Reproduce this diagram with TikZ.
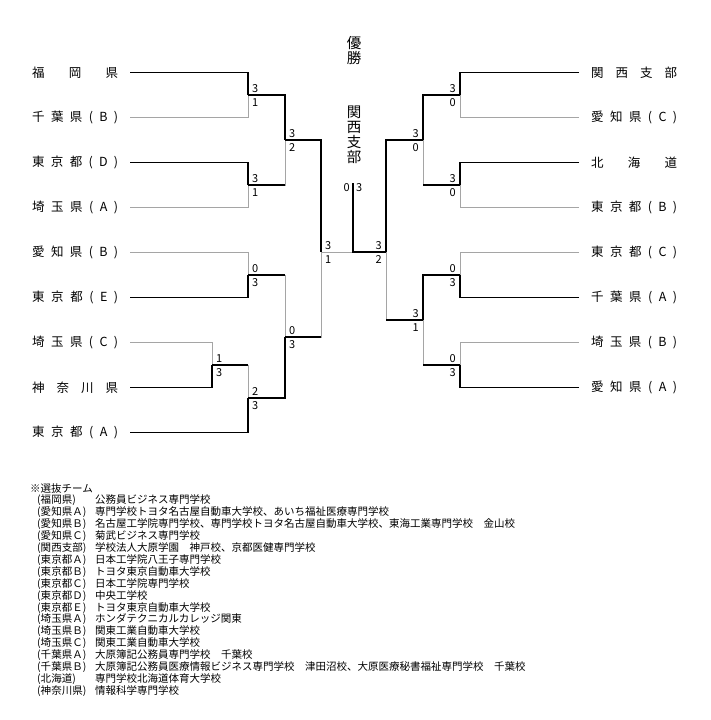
\documentclass[tikz,border=0pt]{standalone}
\usepackage{fontspec}
\setmainfont{Noto Sans CJK JP}
\usetikzlibrary{positioning}

% spread the characters of a team name over a fixed width
\makeatletter
\newcommand\spreadtext[1]{\makebox[86pt][s]{\spr@first#1\@nil}}
\def\spr@first#1{#1\spr@rest}
\def\spr@rest#1{\ifx\@nil#1\else\hfill#1\expandafter\spr@rest\fi}
\makeatother

\definecolor{losegray}{RGB}{165,165,165}

\begin{document}
\begin{tikzpicture}[
      x=1pt, y=-1pt,
      team/.style={inner sep=0pt, anchor=west, font=\fontsize{12.5}{14}\selectfont},
      score/.style={inner sep=0pt, font=\fontsize{11}{12}\selectfont},
      champ/.style={inner sep=0pt, align=center, font=\fontsize{14.5}{15}\selectfont},
      notes/.style={inner sep=0pt, anchor=north west, align=left,
                    font=\fontsize{10.5}{11.9}\selectfont},
      win/.style={line width=1.9pt, black},
      lose/.style={line width=0.9pt, losegray},
    ]
    \useasboundingbox (0,0) rectangle (710,720);

    % left teams
    \node[team] (n-fuk)  at (32,72.5)  {\spreadtext{福岡県}};
    \node[team] (n-chiB) at (32,117.5) {\spreadtext{千葉県(B)}};
    \node[team] (n-tokD) at (32,162.5) {\spreadtext{東京都(D)}};
    \node[team] (n-saiA) at (32,207.5) {\spreadtext{埼玉県(A)}};
    \node[team] (n-aiB)  at (32,252.5) {\spreadtext{愛知県(B)}};
    \node[team] (n-tokE) at (32,297.5) {\spreadtext{東京都(E)}};
    \node[team] (n-saiC) at (32,342.5) {\spreadtext{埼玉県(C)}};
    \node[team] (n-kana) at (32,387.5) {\spreadtext{神奈川県}};
    \node[team] (n-tokA) at (32,432.5) {\spreadtext{東京都(A)}};
    \coordinate (t-fuk)  at (130,72.5);
    \coordinate (t-chiB) at (130,117.5);
    \coordinate (t-tokD) at (130,162.5);
    \coordinate (t-saiA) at (130,207.5);
    \coordinate (t-aiB)  at (130,252.5);
    \coordinate (t-tokE) at (130,297.5);
    \coordinate (t-saiC) at (130,342.5);
    \coordinate (t-kana) at (130,387.5);
    \coordinate (t-tokA) at (130,432.5);

    % right teams
    \node[team] (n-kan)  at (591,72.5)  {\spreadtext{関西支部}};
    \node[team] (n-aiC)  at (591,117.5) {\spreadtext{愛知県(C)}};
    \node[team] (n-hok)  at (591,162.5) {\spreadtext{北海道}};
    \node[team] (n-tokB) at (591,207.5) {\spreadtext{東京都(B)}};
    \node[team] (n-tokC) at (591,252.5) {\spreadtext{東京都(C)}};
    \node[team] (n-chiA) at (591,297.5) {\spreadtext{千葉県(A)}};
    \node[team] (n-saiB) at (591,342.5) {\spreadtext{埼玉県(B)}};
    \node[team] (n-aiA)  at (591,387.5) {\spreadtext{愛知県(A)}};
    \coordinate (t-kan)  at (579,72.5);
    \coordinate (t-aiC)  at (579,117.5);
    \coordinate (t-hok)  at (579,162.5);
    \coordinate (t-tokB) at (579,207.5);
    \coordinate (t-tokC) at (579,252.5);
    \coordinate (t-chiA) at (579,297.5);
    \coordinate (t-saiB) at (579,342.5);
    \coordinate (t-aiA)  at (579,387.5);

    % match points
    \coordinate (L1) at (248,95);
    \coordinate (L2) at (248,185);
    \coordinate (L3) at (248,275);
    \coordinate (La) at (212,365);
    \coordinate (L4) at (248,398);
    \coordinate (L5) at (285,140);
    \coordinate (L6) at (285,337);
    \coordinate (L7) at (321,252);
    \coordinate (C)  at (353,252);
    \coordinate (Ctop) at (353,183);
    \coordinate (R7) at (386,252);
    \coordinate (R5) at (423,140);
    \coordinate (R6) at (423,320);
    \coordinate (R1) at (460,95);
    \coordinate (R2) at (460,185);
    \coordinate (R3) at (460,275);
    \coordinate (R4) at (460,365);

    % left half: losers first, winners on top
    \draw[lose] (t-chiB) -| (L1);
    \draw[lose] (t-saiA) -| (L2);
    \draw[lose] (t-aiB) -| (L3);
    \draw[lose] (t-saiC) -| (La);
    \draw[lose] (La) -| (L4);
    \draw[lose] (L2) -| (L5);
    \draw[lose] (L3) -| (L6);
    \draw[lose] (L6) -| (L7);
    \draw[win] (t-fuk) -| (L1);
    \draw[win] (t-tokD) -| (L2);
    \draw[win] (t-tokE) -| (L3);
    \draw[win] (t-kana) -| (La);
    \draw[win] (t-tokA) -| (L4);
    \draw[win] (La) -- (La -| L4);
    \draw[win] (L1) -| (L5);
    \draw[win] (L2) -- (L2 -| L5);
    \draw[win] (L4) -| (L6);
    \draw[win] (L3) -- (L3 -| L6);
    \draw[win] (L5) -| (L7);
    \draw[win] (L6) -- (L6 -| L7);

    % right half
    \draw[lose] (t-aiC) -| (R1);
    \draw[lose] (t-tokB) -| (R2);
    \draw[lose] (t-tokC) -| (R3);
    \draw[lose] (t-saiB) -| (R4);
    \draw[lose] (R2) -| (R5);
    \draw[lose] (R4) -| (R6);
    \draw[lose] (R6) -| (R7);
    \draw[win] (t-kan) -| (R1);
    \draw[win] (t-hok) -| (R2);
    \draw[win] (t-chiA) -| (R3);
    \draw[win] (t-aiA) -| (R4);
    \draw[win] (R1) -| (R5);
    \draw[win] (R2) -- (R2 -| R5);
    \draw[win] (R3) -| (R6);
    \draw[win] (R4) -- (R4 -| R6);
    \draw[win] (R5) -| (R7);
    \draw[win] (R6) -- (R6 -| R7);

    % final
    \draw[lose] (L7) -- (C);
    \draw[win] (R7) -- (C) -- (Ctop);

    % scores, left half
    \node[score, anchor=south west, xshift=4pt, yshift=2pt] (sL1a) at (L1) {3};
    \node[score, anchor=north west, xshift=4pt, yshift=-3pt] (sL1b) at (L1) {1};
    \node[score, anchor=south west, xshift=4pt, yshift=2pt] (sL2a) at (L2) {3};
    \node[score, anchor=north west, xshift=4pt, yshift=-3pt] (sL2b) at (L2) {1};
    \node[score, anchor=south west, xshift=4pt, yshift=2pt] (sL3a) at (L3) {0};
    \node[score, anchor=north west, xshift=4pt, yshift=-3pt] (sL3b) at (L3) {3};
    \node[score, anchor=south west, xshift=4pt, yshift=2pt] (sLaa) at (La) {1};
    \node[score, anchor=north west, xshift=4pt, yshift=-3pt] (sLab) at (La) {3};
    \node[score, anchor=south west, xshift=4pt, yshift=2pt] (sL4a) at (L4) {2};
    \node[score, anchor=north west, xshift=4pt, yshift=-3pt] (sL4b) at (L4) {3};
    \node[score, anchor=south west, xshift=4pt, yshift=2pt] (sL5a) at (L5) {3};
    \node[score, anchor=north west, xshift=4pt, yshift=-3pt] (sL5b) at (L5) {2};
    \node[score, anchor=south west, xshift=4pt, yshift=2pt] (sL6a) at (L6) {0};
    \node[score, anchor=north west, xshift=4pt, yshift=-3pt] (sL6b) at (L6) {3};
    \node[score, anchor=south west, xshift=4pt, yshift=2pt] (sL7a) at (L7) {3};
    \node[score, anchor=north west, xshift=4pt, yshift=-3pt] (sL7b) at (L7) {1};

    % scores, right half
    \node[score, anchor=south east, xshift=-4pt, yshift=2pt] (sR1a) at (R1) {3};
    \node[score, anchor=north east, xshift=-4pt, yshift=-3pt] (sR1b) at (R1) {0};
    \node[score, anchor=south east, xshift=-4pt, yshift=2pt] (sR2a) at (R2) {3};
    \node[score, anchor=north east, xshift=-4pt, yshift=-3pt] (sR2b) at (R2) {0};
    \node[score, anchor=south east, xshift=-4pt, yshift=2pt] (sR3a) at (R3) {0};
    \node[score, anchor=north east, xshift=-4pt, yshift=-3pt] (sR3b) at (R3) {3};
    \node[score, anchor=south east, xshift=-4pt, yshift=2pt] (sR4a) at (R4) {0};
    \node[score, anchor=north east, xshift=-4pt, yshift=-3pt] (sR4b) at (R4) {3};
    \node[score, anchor=south east, xshift=-4pt, yshift=2pt] (sR5a) at (R5) {3};
    \node[score, anchor=north east, xshift=-4pt, yshift=-3pt] (sR5b) at (R5) {0};
    \node[score, anchor=south east, xshift=-4pt, yshift=2pt] (sR6a) at (R6) {3};
    \node[score, anchor=north east, xshift=-4pt, yshift=-3pt] (sR6b) at (R6) {1};
    \node[score, anchor=south east, xshift=-4pt, yshift=2pt] (sR7a) at (R7) {3};
    \node[score, anchor=north east, xshift=-4pt, yshift=-3pt] (sR7b) at (R7) {2};

    % champion
    \node[score, anchor=east, xshift=-3pt, yshift=-5pt] (sCl) at (Ctop) {0};
    \node[score, anchor=west, xshift=3pt, yshift=-5pt] (sCr) at (Ctop) {3};
    \node[champ] (title) at (354,50.5) {優\\勝};
    \node[champ] (winner) at (354,135) {関\\西\\支\\部};

    % selected teams
    \node[notes] (notes) at (30,483) {%
      ※選抜チーム\\
      \makebox[65pt][l]{\hspace{7pt}(福岡県)}公務員ビジネス専門学校\\
      \makebox[65pt][l]{\hspace{7pt}(愛知県Ａ)}専門学校トヨタ名古屋自動車大学校、あいち福祉医療専門学校\\
      \makebox[65pt][l]{\hspace{7pt}(愛知県Ｂ)}名古屋工学院専門学校、専門学校トヨタ名古屋自動車大学校、東海工業専門学校　金山校\\
      \makebox[65pt][l]{\hspace{7pt}(愛知県Ｃ)}菊武ビジネス専門学校\\
      \makebox[65pt][l]{\hspace{7pt}(関西支部)}学校法人大原学園　神戸校、京都医健専門学校\\
      \makebox[65pt][l]{\hspace{7pt}(東京都Ａ)}日本工学院八王子専門学校\\
      \makebox[65pt][l]{\hspace{7pt}(東京都Ｂ)}トヨタ東京自動車大学校\\
      \makebox[65pt][l]{\hspace{7pt}(東京都Ｃ)}日本工学院専門学校\\
      \makebox[65pt][l]{\hspace{7pt}(東京都Ｄ)}中央工学校\\
      \makebox[65pt][l]{\hspace{7pt}(東京都Ｅ)}トヨタ東京自動車大学校\\
      \makebox[65pt][l]{\hspace{7pt}(埼玉県Ａ)}ホンダテクニカルカレッジ関東\\
      \makebox[65pt][l]{\hspace{7pt}(埼玉県Ｂ)}関東工業自動車大学校\\
      \makebox[65pt][l]{\hspace{7pt}(埼玉県Ｃ)}関東工業自動車大学校\\
      \makebox[65pt][l]{\hspace{7pt}(千葉県Ａ)}大原簿記公務員専門学校　千葉校\\
      \makebox[65pt][l]{\hspace{7pt}(千葉県Ｂ)}大原簿記公務員医療情報ビジネス専門学校　津田沼校、大原医療秘書福祉専門学校　千葉校\\
      \makebox[65pt][l]{\hspace{7pt}(北海道)}専門学校北海道体育大学校\\
      \makebox[65pt][l]{\hspace{7pt}(神奈川県)}情報科学専門学校};
  \end{tikzpicture}
\end{document}
